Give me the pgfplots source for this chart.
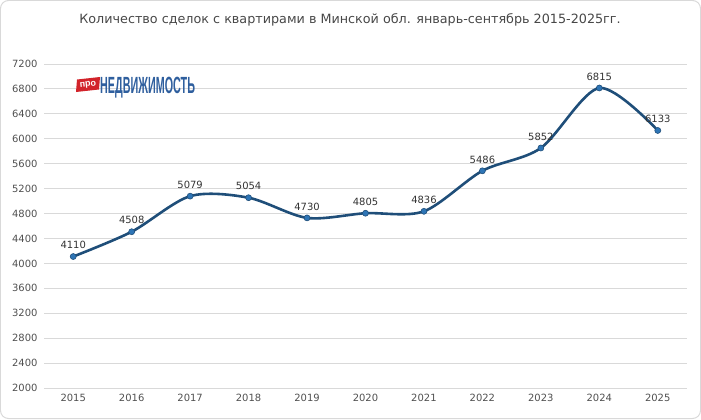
\documentclass[border=0pt]{standalone}
\usepackage{pgfplots}
\pgfplotsset{compat=1.18}
\usepackage{fontspec}
\setmainfont{DejaVu Sans}
\newfontfamily\logofont{Liberation Sans}
\definecolor{linec}{HTML}{1F4E79}
\definecolor{markc}{HTML}{2E75B6}
\definecolor{gridc}{HTML}{D9D9D9}
\definecolor{txt}{HTML}{595959}
\definecolor{logored}{HTML}{D2232A}
\definecolor{logoblue}{HTML}{2F5F9E}
\begin{document}
\begin{tikzpicture}[x=1bp,y=1bp]
\draw[gridc, rounded corners=8bp, line width=1bp] (0.5,0.5) rectangle (700.5,418.5);
\useasboundingbox (0,0) rectangle (701,419);
\node[font=\fontsize{12.8}{15}\selectfont, text=txt!80!black] at (350,399) {Количество сделок с квартирами в Минской обл. январь-сентябрь 2015-2025гг.};
\begin{axis}[at={(44bp,31bp)}, anchor=south west, scale only axis,
  width=643bp, height=324bp,
  xmin=2014.5, xmax=2025.5, ymin=2000, ymax=7200,
  ytick={2000,2400,...,7200}, xtick={2015,...,2025},
  axis line style={draw=none}, major tick style={draw=none},
  ymajorgrids, grid style={gridc, line width=0.9bp},
  /pgf/number format/assume math mode=true,
  /pgf/number format/1000 sep={},
  ticklabel style={font=\fontsize{10}{12}\selectfont, text=txt!90!black},
  yticklabel style={xshift=-3bp},
  xticklabel style={yshift=-3bp},
  nodes near coords,
  every node near coord/.style={font=\fontsize{10}{12}\selectfont, text=black!80, anchor=south, yshift=4bp, /pgf/number format/1000 sep={}},
  clip=false]
\addplot[linec, line width=2.6bp, smooth, tension=0.5, mark=*, mark size=3bp,
  mark options={fill=markc, draw=linec, line width=0.6bp}]
  coordinates {(2015,4110) (2016,4508) (2017,5079) (2018,5054) (2019,4730) (2020,4805) (2021,4836) (2022,5486) (2023,5852) (2024,6815) (2025,6133)};
\end{axis}
% logo
\fill[logored] (76,327) -- (99,329.5) -- (100,342) -- (77,339.5) -- cycle;
\node[font=\logofont\bfseries\fontsize{9}{10}\selectfont, text=white, rotate=6, inner sep=0pt] at (88,334) {про};
\node[anchor=base west, inner sep=0pt, text=logoblue, font=\logofont\bfseries\fontsize{23.5}{26}\selectfont] at (100,326) {\scalebox{0.46}[1]{НЕДВИЖИМОСТЬ}};
\end{tikzpicture}
\end{document}
